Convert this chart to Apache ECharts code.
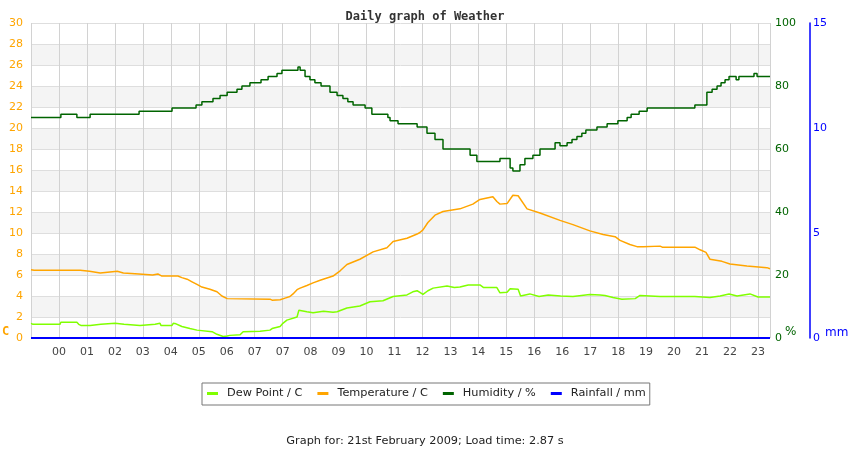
<!DOCTYPE html>
<html>
<head>
<meta charset="utf-8">
<title>Daily graph of Weather</title>
<script src="https://cdn.jsdelivr.net/npm/echarts@6/dist/echarts.min.js"></script>
<style>
  html, body { margin: 0; padding: 0; background: #fff; }
  #main { width: 850px; height: 450px; }
</style>
</head>
<body>
<div id="main"></div>
<script>
// x values are hours from the left edge of the plot (0..24)
// the plotter put a tick every ~55 min and labelled it with the hour
const tickStep = 24 * 27.96 / 739;
const tickLabels = ['', '00', '01', '02', '03', '04', '05', '06', '07', '07', '08', '09', '10',
  '11', '12', '13', '14', '15', '16', '16', '17', '18', '19', '20', '21', '22', '23'];

// humidity, % (stepped readings)
const humidity = [
  [0, 70], [0.97, 71], [1.49, 70], [1.92, 71], [3.51, 72], [4.58, 73], [5.36, 74], [5.55, 75],
  [5.91, 76], [6.14, 77], [6.37, 78], [6.69, 79], [6.85, 80], [7.11, 81], [7.47, 82], [7.70, 83],
  [7.99, 84], [8.15, 85], [8.67, 86], [8.74, 85], [8.90, 83], [9.06, 82], [9.22, 81], [9.42, 80],
  [9.71, 78], [9.94, 77], [10.13, 76], [10.29, 75], [10.46, 74], [10.85, 73], [11.07, 71],
  [11.59, 70], [11.66, 69], [11.92, 68], [12.54, 67], [12.86, 65], [13.12, 63], [13.38, 60],
  [14.26, 58], [14.48, 56], [15.23, 57], [15.56, 54], [15.65, 53], [15.88, 55], [16.04, 57],
  [16.30, 58], [16.53, 60], [17.02, 62], [17.18, 61], [17.41, 62], [17.57, 63], [17.73, 64],
  [17.89, 65], [18.02, 66], [18.38, 67], [18.71, 68], [19.06, 69], [19.36, 70], [19.49, 71],
  [19.75, 72], [20.01, 73], [21.56, 74], [21.95, 78], [22.12, 79], [22.28, 80], [22.41, 81],
  [22.54, 82], [22.67, 83], [22.90, 82], [22.99, 83], [23.48, 84], [23.58, 83], [24, 83]
];

// temperature, C
const temperature = [
  [0, 6.5], [0.1, 6.45], [1.6, 6.45], [1.65, 6.35], [1.9, 6.35], [1.95, 6.2], [2.25, 6.2],
  [2.3, 6.35], [2.8, 6.35], [2.85, 6.2], [3.0, 6.2], [3.05, 6.1], [3.5, 6.1], [3.55, 6.0],
  [3.95, 6.0], [4.0, 6.1], [4.12, 6.1], [4.15, 6.0], [4.25, 5.9], [4.77, 5.9], [4.9, 5.75],
  [5.07, 5.6], [5.23, 5.35], [5.39, 5.1], [5.55, 4.85], [5.81, 4.65], [6.04, 4.4], [6.2, 4.0],
  [6.37, 3.75], [7.76, 3.7], [7.83, 3.6], [8.09, 3.65], [8.25, 3.8], [8.41, 3.95], [8.51, 4.2],
  [8.64, 4.6], [8.74, 4.75], [8.96, 5.0], [9.16, 5.25], [9.39, 5.5], [9.81, 5.9], [10.04, 6.4],
  [10.26, 7.0], [10.68, 7.5], [11.11, 8.2], [11.56, 8.6], [11.76, 9.2], [12.21, 9.5],
  [12.54, 9.9], [12.63, 10.05], [12.73, 10.3], [12.89, 11.0], [13.12, 11.7], [13.38, 12.05],
  [13.93, 12.3], [14.35, 12.75], [14.58, 13.2], [15.0, 13.45], [15.13, 13.0], [15.23, 12.75],
  [15.46, 12.8], [15.65, 13.6], [15.82, 13.55], [16.11, 12.3], [16.53, 11.9], [17.18, 11.2],
  [17.60, 10.8], [18.15, 10.2], [18.58, 9.85], [18.97, 9.65], [19.13, 9.3], [19.45, 8.9],
  [19.68, 8.7], [19.88, 8.7], [20.43, 8.75], [20.5, 8.65], [21.56, 8.65], [21.73, 8.4],
  [21.92, 8.15], [22.05, 7.5], [22.44, 7.3], [22.70, 7.05], [23.25, 6.85], [23.90, 6.7], [24, 6.6]
];

// dew point, C
const dewPoint = [
  [0, 1.4], [0.065, 1.3], [0.94, 1.3], [0.97, 1.5], [1.49, 1.5], [1.55, 1.3], [1.62, 1.2],
  [1.92, 1.2], [1.95, 1.3], [2.27, 1.3], [2.3, 1.4], [2.73, 1.4], [2.78, 1.3], [3.02, 1.3],
  [3.05, 1.2], [3.54, 1.2], [3.57, 1.3], [4.03, 1.3], [4.06, 1.4], [4.19, 1.4], [4.22, 1.2],
  [4.58, 1.2], [4.62, 1.4], [4.71, 1.35], [4.77, 1.3], [4.90, 1.1], [5.16, 0.9], [5.39, 0.75],
  [5.88, 0.6], [6.04, 0.35], [6.24, 0.15], [6.3, 0.05], [6.37, 0.2], [6.46, 0.25], [6.79, 0.3],
  [6.89, 0.6], [7.44, 0.65], [7.47, 0.75], [7.76, 0.75], [7.83, 0.9], [8.09, 1.1], [8.18, 1.4],
  [8.31, 1.7], [8.64, 2.0], [8.70, 2.65], [8.96, 2.5], [9.16, 2.4], [9.5, 2.55], [9.81, 2.45],
  [9.94, 2.5], [10.26, 2.85], [10.68, 3.05], [11.01, 3.45], [11.43, 3.55], [11.76, 3.95],
  [12.21, 4.1], [12.4, 4.4], [12.54, 4.5], [12.63, 4.35], [12.73, 4.15], [12.89, 4.5],
  [13.06, 4.75], [13.51, 4.95], [13.75, 4.8], [13.93, 4.85], [14.2, 5.05], [14.58, 5.05],
  [14.7, 4.8], [15.13, 4.8], [15.23, 4.3], [15.46, 4.35], [15.56, 4.7], [15.82, 4.65],
  [15.9, 4.0], [16.2, 4.2], [16.5, 3.95], [16.8, 4.1], [17.2, 4.0], [17.6, 3.95], [18.15, 4.15],
  [18.48, 4.1], [18.64, 4.05], [18.9, 3.85], [19.19, 3.7], [19.62, 3.75], [19.78, 4.05],
  [20.43, 3.95], [21.56, 3.95], [21.6, 3.8], [22.05, 3.85], [22.38, 4.0], [22.67, 4.2],
  [22.93, 4.0], [23.35, 4.2], [23.61, 3.9], [24, 3.9]
];

// rainfall, mm (none all day)
const rainfall = [[0, 0], [24, 0]];

const font = 'DejaVu Sans';

const chart = echarts.init(document.getElementById('main'));
chart.setOption({
  animation: false,
  backgroundColor: '#fff',
  title: [
    {
      text: 'Daily graph of Weather',
      left: 'center',
      top: 6,
      textStyle: { fontFamily: 'DejaVu Sans Mono', fontWeight: 'bold', fontSize: 12, color: '#333' }
    },
    {
      text: 'Graph for: 21st February 2009; Load time: 2.87 s',
      left: 'center',
      top: 431,
      textStyle: { fontFamily: font, fontWeight: 'normal', fontSize: 11.3, color: '#222' }
    }
  ],
  legend: {
    left: 202,
    top: 383,
    padding: [5, 4, 6, 5],
    borderColor: '#777',
    borderWidth: 1,
    icon: 'rect',
    itemWidth: 11,
    itemHeight: 3,
    itemGap: 15,
    textStyle: { fontFamily: font, fontSize: 11.3, color: '#222', padding: [0, 0, 0, 4] },
    data: ['Dew Point / C', 'Temperature / C', 'Humidity / %', 'Rainfall / mm']
  },
  grid: { left: 31, right: 80, top: 23, bottom: 112 },
  xAxis: {
    type: 'value',
    min: 0,
    max: 24,
    interval: tickStep,
    axisLine: { show: false },
    axisTick: { show: false },
    axisLabel: {
      color: '#444',
      fontFamily: font,
      fontSize: 11,
      margin: 9,
      showMaxLabel: false,
      formatter: function (v) {
        const i = Math.round(v / tickStep);
        if (Math.abs(v - i * tickStep) > 1e-6) return '';
        return tickLabels[i] || '';
      }
    },
    splitLine: { show: true, lineStyle: { color: '#d2d2d2', width: 1 } }
  },
  yAxis: [
    {
      type: 'value',
      min: 0,
      max: 30,
      interval: 2,
      position: 'left',
      axisLine: { show: false },
      axisTick: { show: false },
      axisLabel: { color: '#ffa500', fontFamily: font, fontSize: 11, margin: 8 },
      splitLine: { lineStyle: { color: '#dedede' } },
      splitArea: { show: true, areaStyle: { color: ['#ffffff', '#f4f4f4'] } }
    },
    {
      type: 'value',
      min: 0,
      max: 100,
      interval: 20,
      position: 'right',
      axisLine: { show: false },
      axisTick: { show: false },
      axisLabel: { color: '#006400', fontFamily: font, fontSize: 11, margin: 5 },
      splitLine: { show: false }
    },
    {
      type: 'value',
      min: 0,
      max: 15,
      interval: 5,
      position: 'right',
      offset: 40,
      axisLine: { show: true, lineStyle: { color: '#0000ff', width: 1.5 } },
      axisTick: { show: false },
      axisLabel: { color: '#0000ff', fontFamily: font, fontSize: 11, margin: 3 },
      splitLine: { show: false }
    }
  ],
  graphic: [
    { type: 'text', left: 2, top: 326, style: { text: 'C', fill: '#ffa500', font: 'bold 12px "DejaVu Sans Mono"' } },
    { type: 'text', left: 785, top: 326, style: { text: '%', fill: '#006400', font: '12px "DejaVu Sans"' } },
    { type: 'text', left: 825, top: 327, style: { text: 'mm', fill: '#0000ff', font: '12px "DejaVu Sans"' } }
  ],
  series: [
    {
      name: 'Dew Point / C',
      type: 'line',
      yAxisIndex: 0,
      data: dewPoint,
      showSymbol: false,
      color: '#80ff00',
      lineStyle: { color: '#80ff00', width: 1.5 }
    },
    {
      name: 'Temperature / C',
      type: 'line',
      yAxisIndex: 0,
      data: temperature,
      showSymbol: false,
      color: '#ffa500',
      lineStyle: { color: '#ffa500', width: 1.5 }
    },
    {
      name: 'Humidity / %',
      type: 'line',
      yAxisIndex: 1,
      step: 'end',
      data: humidity,
      showSymbol: false,
      color: '#006400',
      lineStyle: { color: '#006400', width: 1.5 }
    },
    {
      name: 'Rainfall / mm',
      type: 'line',
      yAxisIndex: 2,
      data: rainfall,
      showSymbol: false,
      color: '#0000ff',
      lineStyle: { color: '#0000ff', width: 2 }
    }
  ]
});
</script>
</body>
</html>
